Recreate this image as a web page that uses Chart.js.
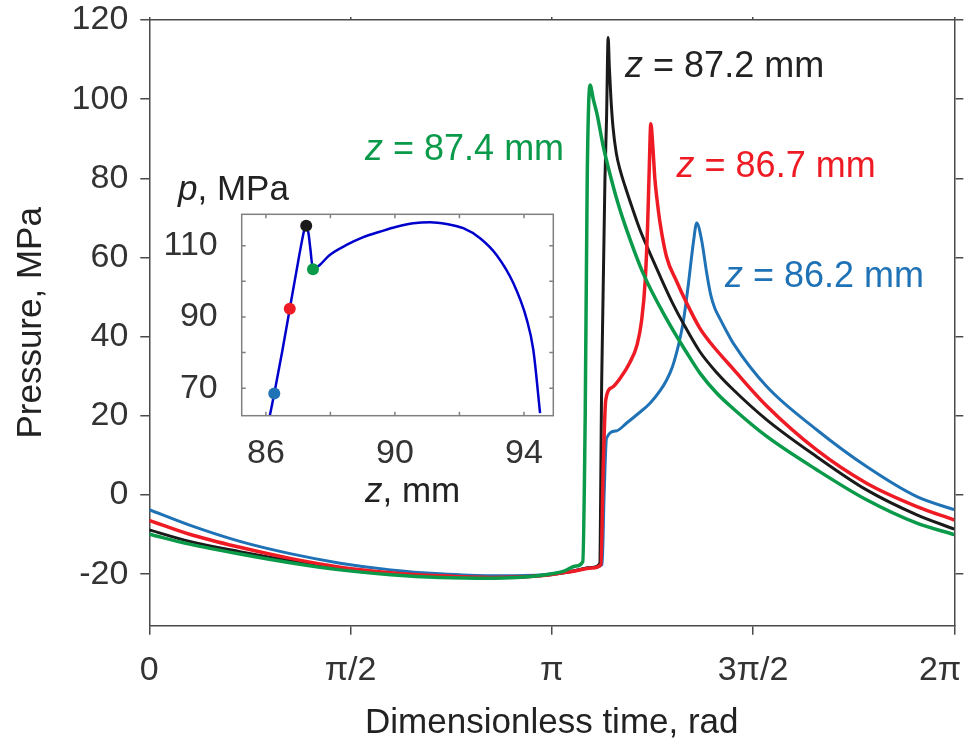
<!DOCTYPE html>
<html>
<head>
<meta charset="utf-8">
<script src="https://cdn.jsdelivr.net/npm/chart.js@4.4.1/dist/chart.umd.min.js"></script>
<style>
  html, body { margin: 0; padding: 0; background: #fff; }
  #wrap { position: relative; width: 980px; height: 749px; }
  #main { position: absolute; left: 0; top: 0; }
  #inset { position: absolute; left: 160px; top: 150px; }
</style>
</head>
<body>
<div id="wrap">
  <canvas id="main" width="980" height="749"></canvas>
  <canvas id="inset" width="410" height="370"></canvas>
</div>
<script>
// main chart: time in units of pi, pressure in MPa
const xTicks = [0, 0.5, 1, 1.5, 2];
const xTickLabels = ['0', 'π/2', 'π', '3π/2', '2π'];
const yTicks = [-20, 0, 20, 40, 60, 80, 100, 120];

const t862 = [0, 0.1, 0.225, 0.35, 0.474, 0.6, 0.722, 0.85, 0.971, 1.05, 1.1, 1.125, 1.13, 1.136, 1.16, 1.186, 1.215, 1.244, 1.27, 1.285, 1.3, 1.315, 1.327, 1.339, 1.352, 1.36, 1.372, 1.385, 1.395, 1.405, 1.418, 1.435, 1.451, 1.534, 1.658, 1.782, 1.907, 2.0];
const p862 = [-3.7, -7.6, -11.7, -14.8, -17.2, -18.9, -19.9, -20.4, -20.2, -19.2, -18.3, -17.5, 0, 14.4, 16.2, 18.2, 20.6, 23.2, 26.5, 29, 32.5, 38, 44, 53, 64, 68.7, 64.5, 56, 50.5, 47.2, 44.5, 41.2, 38.3, 27.4, 16.5, 7.2, -0.4, -3.7];

const t867 = [0, 0.1, 0.225, 0.35, 0.474, 0.6, 0.722, 0.85, 0.971, 1.05, 1.1, 1.122, 1.128, 1.134, 1.15, 1.169, 1.194, 1.212, 1.223, 1.232, 1.238, 1.242, 1.246, 1.251, 1.256, 1.261, 1.269, 1.285, 1.31, 1.335, 1.368, 1.393, 1.451, 1.534, 1.658, 1.782, 1.907, 2.0];
const p867 = [-6.4, -9.9, -13.2, -16, -18.2, -19.6, -20.4, -20.8, -20.4, -19.3, -18.4, -17.6, 8, 24, 27.2, 29.4, 33.5, 38, 44, 54, 68, 82, 93.8, 88, 80, 75, 68.7, 60.2, 54, 48.5, 42.1, 38.6, 31.8, 22.5, 11.4, 3.0, -2.9, -6.3];

const t872 = [0, 0.1, 0.225, 0.35, 0.474, 0.6, 0.722, 0.85, 0.971, 1.05, 1.1, 1.119, 1.124, 1.132, 1.136, 1.14, 1.143, 1.147, 1.152, 1.16, 1.17, 1.182, 1.2, 1.219, 1.245, 1.269, 1.3, 1.327, 1.368, 1.41, 1.451, 1.534, 1.658, 1.782, 1.907, 2.0];
const p872 = [-8.8, -11.7, -14.3, -16.6, -18.6, -19.9, -20.6, -20.9, -20.4, -19.3, -18.3, -17.3, 29, 79.6, 95, 115.6, 108, 100, 93, 86.5, 82, 78, 72.5, 67, 60.8, 55.3, 48.5, 43.3, 36.2, 30.9, 26.6, 19, 9.7, 1.3, -5, -8.6];

const t874 = [0, 0.1, 0.225, 0.35, 0.474, 0.6, 0.722, 0.85, 0.971, 1.03, 1.06, 1.077, 1.083, 1.088, 1.095, 1.103, 1.112, 1.128, 1.144, 1.165, 1.186, 1.227, 1.285, 1.335, 1.368, 1.41, 1.451, 1.534, 1.658, 1.782, 1.907, 2.0];
const p874 = [-9.9, -12.4, -14.9, -17.1, -18.9, -20.1, -20.8, -21, -20.3, -19.2, -17.9, -16.8, 20, 80, 103.6, 100, 96.4, 88, 81.3, 73.5, 67, 56, 44.5, 36, 30.8, 25.7, 21.8, 14.8, 6.4, -1.2, -7.1, -10];

// inset: peak pressure vs z
const insetZTicks = [86, 88, 90, 92, 94];
const insetZLabels = [86, 90, 94];
const insetPTicks = [70, 80, 90, 100, 110];
const insetPLabels = [70, 90, 110];
const curveZ = [86.12, 86.26, 86.5, 86.74, 86.95, 87.1, 87.2, 87.25, 87.32, 87.38, 87.46, 87.67, 87.98, 88.5, 89.02, 89.53, 90.05, 90.57, 91.09, 91.6, 92.12, 92.64, 93.15, 93.67, 94.09, 94.29, 94.5];
const curveP = [62.3, 68.5, 80, 92.3, 103, 110.5, 114.8, 115.6, 113.5, 109, 103.4, 104.6, 107.4, 110.2, 112.4, 113.9, 115.3, 116.3, 116.6, 116.1, 114.9, 112.1, 107.4, 99.5, 89.2, 80.8, 63];
const dotZ = [86.26, 86.74, 87.25, 87.46];
const dotP = [68.5, 92.3, 115.6, 103.4];
const dotColors = ['#1f72b5', '#ee1b24', '#1a1a1a', '#0a9a4a'];

const labels = [
  { z: '87.4 mm', color: '#0a9a4a', t: 0.536, p: 84.6 },
  { z: '87.2 mm', color: '#222222', t: 1.182, p: 105.7 },
  { z: '86.7 mm', color: '#ee1b24', t: 1.310, p: 80.4 },
  { z: '86.2 mm', color: '#1f72b5', t: 1.430, p: 52.6 }
];

const FONT = '"Liberation Sans", Arial, sans-serif';
const axisColor = '#4a4a4a';

const pts = (xs, ys) => xs.map((x, i) => ({ x: x, y: ys[i] }));
const fixTicks = values => scale => { scale.ticks = values.map(v => ({ value: v })); };

function series(xs, ys, color, width) {
  return {
    data: pts(xs, ys),
    showLine: true,
    borderColor: color,
    borderWidth: width,
    borderJoinStyle: 'round',
    pointRadius: 0,
    cubicInterpolationMode: 'monotone'
  };
}

function drawRich(ctx, parts, x, y, size, color) {
  ctx.save();
  ctx.fillStyle = color;
  ctx.textAlign = 'left';
  ctx.textBaseline = 'alphabetic';
  parts.forEach(([txt, italic]) => {
    ctx.font = (italic ? 'italic ' : '') + size + 'px ' + FONT;
    ctx.fillText(txt, x, y);
    x += ctx.measureText(txt).width;
  });
  ctx.restore();
}

// fixed box sizes so the plot area sits where the reference has it
function fitX(h) {
  return s => { s.height = h; s.paddingLeft = 0; s.paddingRight = 0; };
}
function fitY(w) {
  return s => { s.width = w; s.paddingTop = 0; s.paddingBottom = 0; };
}

const mainLabels = {
  id: 'mainLabels',
  afterDatasetsDraw(chart) {
    const { ctx, scales } = chart;
    labels.forEach(l => {
      drawRich(ctx, [['z', true], [' = ' + l.z, false]],
        scales.x.getPixelForValue(l.t), scales.y.getPixelForValue(l.p), 36, l.color);
    });
  }
};

new Chart(document.getElementById('main'), {
  type: 'scatter',
  data: {
    datasets: [
      series(t874, p874, '#0a9a4a', 3.5),
      series(t867, p867, '#ee1b24', 3.5),
      series(t872, p872, '#1a1a1a', 3),
      series(t862, p862, '#1f72b5', 3)
    ]
  },
  options: {
    responsive: false,
    animation: false,
    layout: { padding: 0 },
    plugins: { legend: { display: false }, tooltip: { enabled: false } },
    scales: {
      x: {
        type: 'linear', position: 'bottom', min: 0, max: 2,
        afterBuildTicks: fixTicks(xTicks),
        afterFit: fitX(123.3),
        grid: { drawOnChartArea: false, color: axisColor, lineWidth: 1.5, tickLength: 9 },
        border: { color: axisColor, width: 1.5 },
        ticks: {
          color: '#333', font: { family: FONT, size: 34 }, padding: 16, maxRotation: 0, autoSkip: false,
          // last label nudged left so it stays inside the canvas
          callback: v => xTickLabels[xTicks.indexOf(v)] + (v === 2 ? '   ' : '')
        },
        title: {
          display: true, text: 'Dimensionless time, rad', color: '#222',
          font: { family: FONT, size: 35 }, padding: { top: 0, bottom: 5 }
        }
      },
      x2: {
        type: 'linear', axis: 'x', position: 'top', min: 0, max: 2,
        afterBuildTicks: fixTicks(xTicks),
        afterFit: fitX(20),
        grid: { drawOnChartArea: false, color: axisColor, lineWidth: 1.5, tickLength: 3 },
        border: { color: axisColor, width: 1.5 },
        ticks: { display: false }
      },
      y: {
        type: 'linear', position: 'left', min: -33, max: 120,
        afterBuildTicks: fixTicks(yTicks),
        afterFit: fitY(149.3),
        grid: { drawOnChartArea: false, color: axisColor, lineWidth: 1.5, tickLength: 9 },
        border: { color: axisColor, width: 1.5 },
        ticks: { color: '#333', font: { family: FONT, size: 34, lineHeight: 1.1 }, padding: 12 },
        title: {
          display: true, text: 'Pressure, MPa', color: '#222',
          font: { family: FONT, size: 35 }, padding: { top: 10, bottom: 0 }
        }
      },
      y2: {
        type: 'linear', axis: 'y', position: 'right', min: -33, max: 120,
        afterBuildTicks: fixTicks(yTicks),
        afterFit: fitY(25.7),
        grid: { drawOnChartArea: false, color: axisColor, lineWidth: 1.5, tickLength: 9 },
        border: { color: axisColor, width: 1.5 },
        ticks: { display: false }
      }
    }
  },
  plugins: [mainLabels]
});

// inset frame, inward ticks and axis titles
const insetDecor = {
  id: 'insetDecor',
  afterDraw(chart) {
    const { ctx, chartArea: a, scales } = chart;
    ctx.save();
    ctx.strokeStyle = '#808080';
    ctx.lineWidth = 1.5;
    ctx.strokeRect(a.left, a.top, a.right - a.left, a.bottom - a.top);
    ctx.beginPath();
    insetZTicks.forEach(v => {
      const x = scales.x.getPixelForValue(v);
      ctx.moveTo(x, a.top); ctx.lineTo(x, a.top + 4);
      ctx.moveTo(x, a.bottom); ctx.lineTo(x, a.bottom - 4);
    });
    insetPTicks.forEach(v => {
      const y = scales.y.getPixelForValue(v);
      ctx.moveTo(a.left, y); ctx.lineTo(a.left + 4, y);
      ctx.moveTo(a.right, y); ctx.lineTo(a.right - 4, y);
    });
    ctx.stroke();
    ctx.restore();
    drawRich(ctx, [['p', true], [', MPa', false]], a.left - 63.7, a.top - 14.3, 35, '#222');
    drawRich(ctx, [['z', true], [', mm', false]], a.left + 123.3, a.bottom + 86, 35, '#222');
  }
};

new Chart(document.getElementById('inset'), {
  type: 'scatter',
  data: {
    datasets: [
      {
        data: pts(dotZ, dotP),
        pointRadius: 6,
        pointBackgroundColor: dotColors,
        pointBorderWidth: 0
      },
      {
        data: pts(curveZ, curveP),
        showLine: true,
        borderColor: '#0000cc',
        borderWidth: 2.5,
        pointRadius: 0,
        cubicInterpolationMode: 'monotone'
      }
    ]
  },
  options: {
    responsive: false,
    animation: false,
    layout: { padding: { top: 64.3, right: 16.7, left: 0, bottom: 0 } },
    plugins: { legend: { display: false }, tooltip: { enabled: false } },
    scales: {
      x: {
        type: 'linear', min: 85.25, max: 94.91,
        afterBuildTicks: fixTicks(insetZTicks),
        afterFit: fitX(104.3),
        grid: { display: false },
        border: { display: false },
        ticks: {
          color: '#333', font: { family: FONT, size: 34 }, padding: 10, maxRotation: 0, autoSkip: false,
          callback: v => insetZLabels.includes(v) ? String(v) : ''
        }
      },
      y: {
        type: 'linear', min: 62.3, max: 118.8,
        afterBuildTicks: fixTicks(insetPTicks),
        afterFit: fitY(81.7),
        grid: { display: false },
        border: { display: false },
        ticks: {
          color: '#333', font: { family: FONT, size: 34, lineHeight: 1.1 }, padding: 16,
          callback: v => insetPLabels.includes(v) ? String(v) : ''
        }
      }
    }
  },
  plugins: [insetDecor]
});
</script>
</body>
</html>
